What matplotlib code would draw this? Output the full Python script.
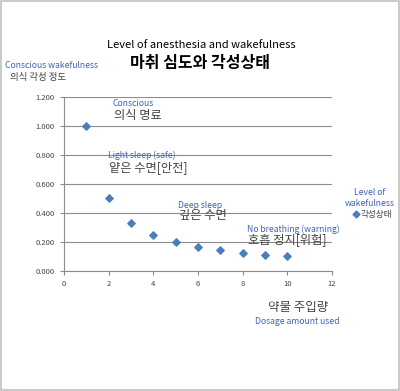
import numpy as np
import matplotlib.pyplot as plt
from matplotlib.patches import Rectangle

plt.rcParams['font.family'] = ['Noto Sans CJK KR', 'DejaVu Sans']

# Data
dosage = [1, 2, 3, 4, 5, 6, 7, 8, 9, 10]
wakefulness = [1.000, 0.500, 0.333, 0.250, 0.200, 0.167, 0.143, 0.125, 0.111, 0.100]
y_ticks = [0.0, 0.2, 0.4, 0.6, 0.8, 1.0, 1.2]
x_ticks = [0, 2, 4, 6, 8, 10, 12]

blue = '#3d63b3'
marker_blue = '#4a7ebb'
gray_text = '#444444'
axis_gray = '#8c8c8c'

fig = plt.figure(figsize=(4.0, 3.91), dpi=100)
ax = fig.add_axes([0.16, 0.307, 0.67, 0.445])

ax.scatter(dosage, wakefulness, marker='D', s=14, color=marker_blue, zorder=3)

ax.set_xlim(0, 12)
ax.set_ylim(0, 1.2)
ax.set_xticks(x_ticks)
ax.set_yticks(y_ticks)
ax.set_yticklabels(['%.3f' % v for v in y_ticks])
ax.tick_params(labelsize=5.5, colors=axis_gray, labelcolor=gray_text, length=3, width=0.8)
ax.yaxis.grid(True, color=axis_gray, linewidth=0.8)
ax.set_axisbelow(True)
for s in ['top', 'right']:
    ax.spines[s].set_visible(False)
for s in ['left', 'bottom']:
    ax.spines[s].set_color(axis_gray)
    ax.spines[s].set_linewidth(0.8)

# Titles
fig.text(0.503, 0.885, 'Level of anesthesia and wakefulness', ha='center', va='center',
         fontsize=8, color='black')
fig.text(0.5, 0.84, '마취 심도와 각성상태', ha='center', va='center',
         fontsize=11.5, fontweight='bold', color='black')

# Y axis label
fig.text(0.013, 0.832, 'Conscious wakefulness', fontsize=6.2, color=blue, va='center')
fig.text(0.025, 0.803, '의식 각성 정도', fontsize=6.8, color=gray_text, va='center')

# Stage annotations
stages = [
    (113, 104, 'Conscious', 116, '의식 명료'),
    (108, 155, 'Light sleep (safe)', 168, '얕은 수면[안전]'),
    (178, 205, 'Deep sleep', 216, '깊은 수면'),
    (247, 229, 'No breathing (warning)', 241, '호흡 정지[위험]'),
]
for px, py, en, py2, ko in stages:
    fig.text(px / 400, 1 - py / 391, en, fontsize=6.2, color=blue, va='center')
    fig.text((px + 1) / 400, 1 - py2 / 391, ko, fontsize=8.8, color=gray_text, va='center')

# Legend
fig.text(0.925, 1 - 193 / 391, 'Level of', fontsize=6.2, color=blue, va='center', ha='center')
fig.text(0.925, 1 - 204 / 391, 'wakefulness', fontsize=6.2, color=blue, va='center', ha='center')
fig.lines.append(plt.Line2D([356 / 400], [1 - 214 / 391], marker='D', markersize=3.5,
                            color=marker_blue, transform=fig.transFigure))
fig.text(361 / 400, 1 - 215 / 391, '각성상태', fontsize=6.2, color=gray_text, va='center')

# X axis label
fig.text(0.746, 1 - 308 / 391, '약물 주입량', fontsize=9, color=gray_text, va='center', ha='center')
fig.text(0.742, 1 - 322 / 391, 'Dosage amount used', fontsize=6.2, color=blue, va='center', ha='center')

# outer frame
fig.patches.append(Rectangle((0.003, 0.003), 0.994, 0.994, transform=fig.transFigure,
                             fill=False, edgecolor='#c0c0c0', linewidth=1.2))

fig.savefig('out.png', dpi=100)
